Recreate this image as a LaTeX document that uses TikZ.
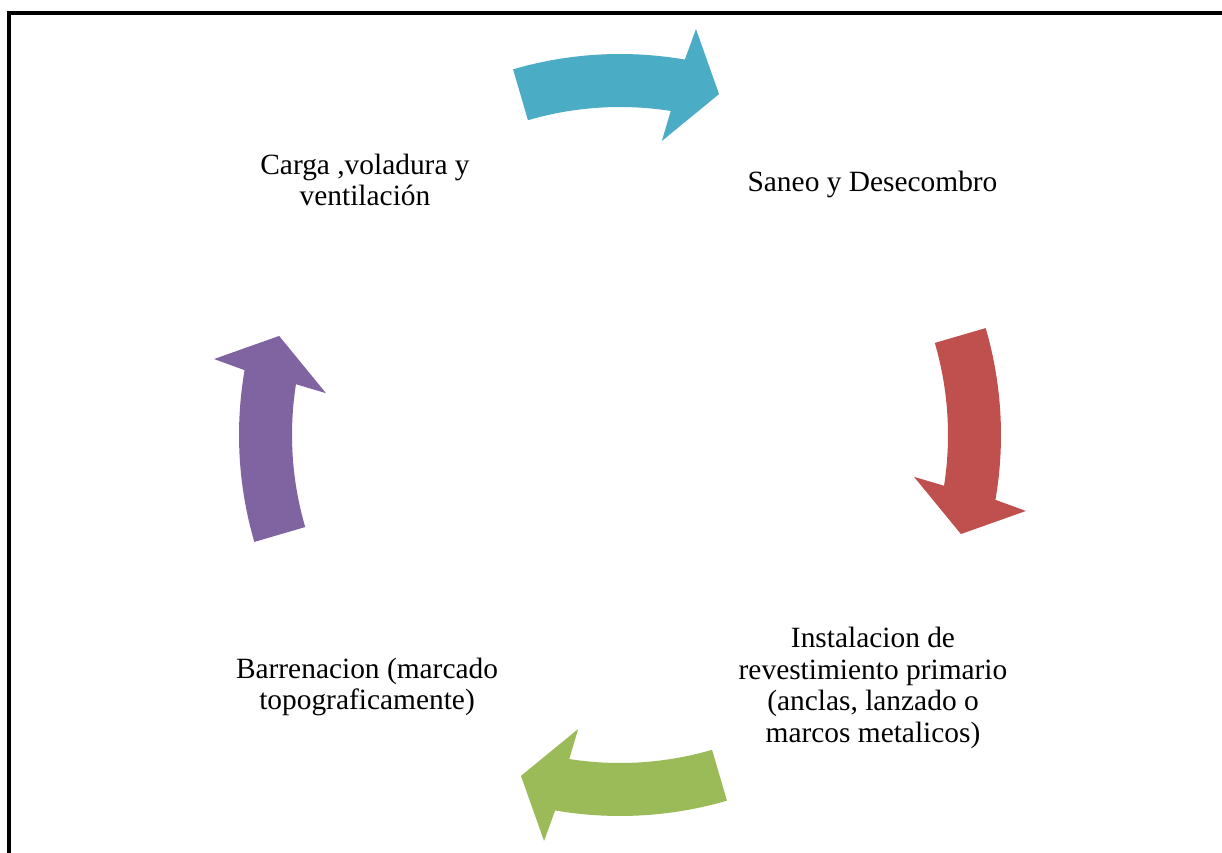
\documentclass[tikz,border=0pt]{standalone}
\usepackage{fontspec}
\setmainfont{Liberation Serif}
\definecolor{cteal}{HTML}{4BACC6}
\definecolor{cred}{HTML}{C0504D}
\definecolor{cgreen}{HTML}{9BBB59}
\definecolor{cpurple}{HTML}{8064A2}
\newcommand{\cyclearrowpath}{%
  (106.3:381pt) arc[start angle=106.3, end angle=80.2, radius=381pt]
  -- (79.4:413pt) -- (73.8:355pt) -- (81.9:297pt) -- (81.1:328pt)
  arc[start angle=81.1, end angle=106.3, radius=328pt] -- cycle}
\begin{document}
\begin{tikzpicture}[x=1pt,y=1pt,
  lbl/.style={align=center, inner sep=0pt, font=\fontsize{29.4}{31.7}\selectfont}]
\clip (0,0) rectangle (1222,852);
\fill[white] (0,0) rectangle (1222,852);
\draw[line width=4pt] (8.7,-20) -- (8.7,839) -- (1240,839);
\coordinate (c) at (620,417);
\begin{scope}[shift={(c)}]
  \fill[cteal] \cyclearrowpath;
  \begin{scope}[rotate=-90] \fill[cred] \cyclearrowpath; \end{scope}
  \begin{scope}[rotate=-180] \fill[cgreen] \cyclearrowpath; \end{scope}
  \begin{scope}[rotate=-270] \fill[cpurple] \cyclearrowpath; \end{scope}
\end{scope}
\node[lbl] (n1) at (365,672) {Carga ,voladura y\\ventilación};
\node[lbl] (n2) at (872.5,668) {Saneo y Desecombro};
\node[lbl] (n3) at (873,164) {Instalacion de\\revestimiento primario\\(anclas, lanzado o\\marcos metalicos)};
\node[lbl] (n4) at (367,165) {Barrenacion (marcado\\topograficamente)};
\end{tikzpicture}
\end{document}
